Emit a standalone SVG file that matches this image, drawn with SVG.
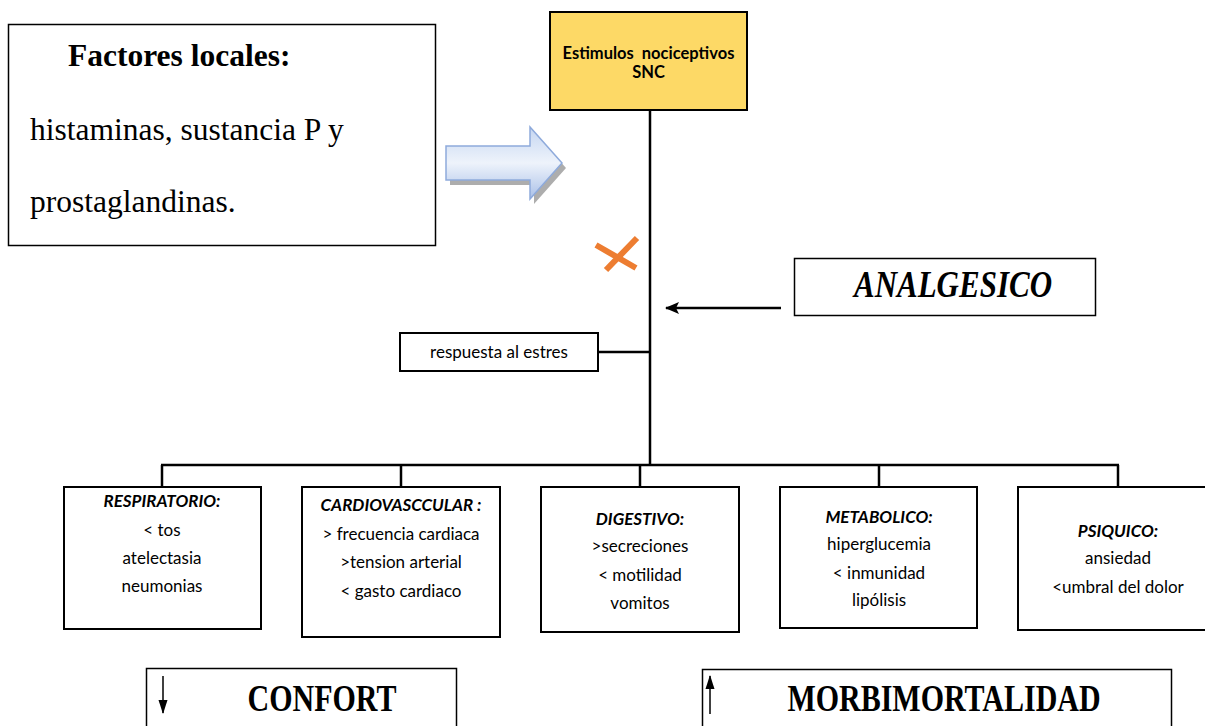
<svg xmlns="http://www.w3.org/2000/svg" width="1205" height="726" viewBox="0 0 1205 726">
<defs>
<linearGradient id="blueg" x1="0" y1="0" x2="0" y2="1">
<stop offset="0" stop-color="#c5d6f1"/>
<stop offset="0.5" stop-color="#eef3fb"/>
<stop offset="1" stop-color="#a9c0e8"/>
</linearGradient>
<marker id="ah" markerWidth="14" markerHeight="10" refX="13" refY="5" orient="auto" markerUnits="userSpaceOnUse">
<path d="M0,0.5 L14,5 L0,9.5 Z" fill="#000"/>
</marker>
<marker id="ahs" markerWidth="14" markerHeight="12" refX="13" refY="6" orient="auto" markerUnits="userSpaceOnUse">
<path d="M0,0 L14,6 L0,12 L3,6 Z" fill="#000"/>
</marker>
</defs>
<style>
.box{fill:#fff;stroke:#000;stroke-width:2}
.thin{fill:#fff;stroke:#000;stroke-width:1.5}
.ser{font-family:"Liberation Serif","Times New Roman",serif;fill:#000}
.cal{font-family:Lato,"Liberation Sans",sans-serif;fill:#000;font-size:17px;text-anchor:middle}
.hd{font-weight:bold;font-style:italic}
.ln{stroke:#000;stroke-width:2.5;fill:none}
</style>
<rect width="1205" height="726" fill="#fff"/>

<g id="factores">
<rect class="thin" x="8.5" y="24.5" width="427" height="221"/>
<text class="ser" x="68" y="66" font-size="31.5" font-weight="bold">Factores locales:</text>
<text class="ser" x="30" y="140" font-size="31.5">histaminas, sustancia P y</text>
<text class="ser" x="30" y="212" font-size="31.5">prostaglandinas.</text>
</g>

<g id="flecha-azul">
<path d="M450,151 L534,151 L534,132 L566,168 L534,204 L534,185 L450,185 Z" fill="#8a8a8a" opacity="0.7"/>
<path d="M446,146 L530,146 L530,127 L562,163 L530,199 L530,180 L446,180 Z" fill="url(#blueg)" stroke="#8eaadb" stroke-width="1.5"/>
</g>

<g id="estimulos">
<rect x="550" y="12" width="197" height="98" fill="#fdd966" stroke="#000" stroke-width="2"/>
<text x="648.5" y="59" font-family="Lato,'Liberation Sans',sans-serif" font-size="16.5" font-weight="bold" text-anchor="middle" xml:space="preserve">Estimulos  nociceptivos</text>
<text x="648.5" y="78" font-family="Lato,'Liberation Sans',sans-serif" font-size="16.5" font-weight="bold" text-anchor="middle">SNC</text>
</g>

<g id="cruz">
<path d="M596,245 L636,268 M637,238 L606,270" stroke="#ed7d31" stroke-width="6" fill="none"/>
</g>

<g id="analgesico">
<rect class="thin" x="794.5" y="258.5" width="301" height="57"/>
<text class="ser" x="0" y="0" font-size="31" font-weight="bold" font-style="italic" text-anchor="middle" transform="translate(953,297) scale(1,1.2)">ANALGESICO</text>
</g>

<g id="respuesta">
<rect class="box" x="400" y="333" width="198" height="38"/>
<text class="cal" x="499" y="358">respuesta al estres</text>
</g>

<g id="connectors">
<line class="ln" x1="650" y1="110" x2="650" y2="466"/>
<line x1="781" y1="308" x2="666" y2="308" stroke="#000" stroke-width="2.5" marker-end="url(#ahs)"/>
<line class="ln" x1="598" y1="352" x2="650" y2="352"/>
<line class="ln" x1="161" y1="465" x2="1119" y2="465"/>
<line class="ln" x1="162" y1="465" x2="162" y2="487"/>
<line class="ln" x1="401" y1="465" x2="401" y2="487"/>
<line class="ln" x1="640" y1="465" x2="640" y2="487"/>
<line class="ln" x1="879" y1="465" x2="879" y2="487"/>
<line class="ln" x1="1118" y1="465" x2="1118" y2="487"/>
</g>

<g id="respiratorio">
<rect class="box" x="64" y="487" width="197" height="142"/>
<text class="cal hd" x="162" y="507">RESPIRATORIO:</text>
<text class="cal" x="162" y="536">&lt; tos</text>
<text class="cal" x="162" y="564">atelectasia</text>
<text class="cal" x="162" y="592">neumonias</text>
</g>

<g id="cardiovascular">
<rect class="box" x="302" y="487" width="198" height="150"/>
<text class="cal hd" x="401" y="511" xml:space="preserve">CARDIOVASCCULAR :</text>
<text class="cal" x="401" y="540">&gt; frecuencia cardiaca</text>
<text class="cal" x="401" y="568">&gt;tension arterial</text>
<text class="cal" x="401" y="597">&lt; gasto cardiaco</text>
</g>

<g id="digestivo">
<rect class="box" x="541" y="487" width="198" height="145"/>
<text class="cal hd" x="640" y="525">DIGESTIVO:</text>
<text class="cal" x="640" y="552">&gt;secreciones</text>
<text class="cal" x="640" y="581">&lt; motilidad</text>
<text class="cal" x="640" y="609">vomitos</text>
</g>

<g id="metabolico">
<rect class="box" x="780" y="487" width="197" height="141"/>
<text class="cal hd" x="879" y="523">METABOLICO:</text>
<text class="cal" x="879" y="550">hiperglucemia</text>
<text class="cal" x="879" y="579">&lt; inmunidad</text>
<text class="cal" x="879" y="606">lipólisis</text>
</g>

<g id="psiquico">
<rect class="box" x="1018" y="487" width="200" height="143"/>
<text class="cal hd" x="1118" y="537">PSIQUICO:</text>
<text class="cal" x="1118" y="564">ansiedad</text>
<text class="cal" x="1118" y="593">&lt;umbral del dolor</text>
</g>

<g id="confort">
<rect class="thin" x="146.5" y="668.5" width="310" height="70"/>
<line x1="163" y1="676" x2="163" y2="713" stroke="#000" stroke-width="1.5" marker-end="url(#ah)"/>
<text class="ser" x="0" y="0" font-size="30" font-weight="bold" text-anchor="middle" transform="translate(322,711) scale(1,1.25)">CONFORT</text>
</g>

<g id="morbimortalidad">
<rect class="thin" x="702.5" y="669.5" width="469" height="70"/>
<line x1="710" y1="714" x2="710" y2="676" stroke="#000" stroke-width="1.5" marker-end="url(#ah)"/>
<text class="ser" x="0" y="0" font-size="30" font-weight="bold" text-anchor="middle" transform="translate(944,711) scale(1,1.25)">MORBIMORTALIDAD</text>
</g>
</svg>
